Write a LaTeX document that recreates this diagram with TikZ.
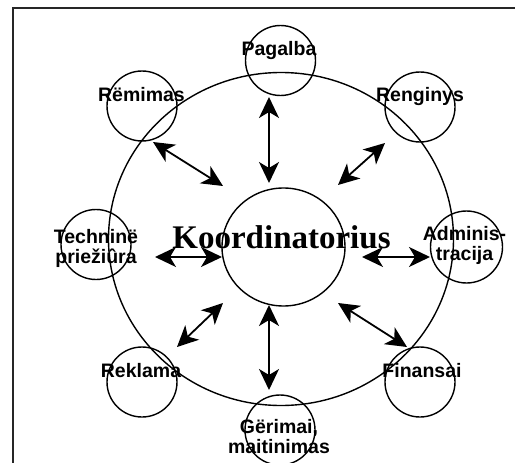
\documentclass[tikz,border=0pt]{standalone}
\usepackage{fontspec}
\setmainfont{Liberation Serif}
\newfontfamily\labfont{Liberation Sans}
\usetikzlibrary{shapes.geometric,arrows.meta}
\begin{document}
\begin{tikzpicture}[x=1pt,y=-1pt,
  frame/.style={draw=black!85, line width=2pt},
  ringline/.style={draw, line width=1.4pt},
  smallc/.style={circle, draw, line width=1.4pt, minimum size=70pt, inner sep=0pt},
  lab/.style={anchor=base, inner sep=0pt, align=center, font=\labfont\bfseries\fontsize{19.5}{20}\selectfont},
  biarrow/.style={line width=1.8pt, {Stealth[length=21pt,width=20pt,inset=6pt]}-{Stealth[length=21pt,width=20pt,inset=6pt]}}
]
\useasboundingbox (0,0) rectangle (515,463);
\draw[frame] (13,8) rectangle (540,490);
\node[ellipse, ringline, minimum width=345pt, minimum height=333pt, inner sep=0pt] (ring) at (281,239) {};
\node[ellipse, ringline, minimum width=123pt, minimum height=118pt, inner sep=0pt] (coord) at (283.5,247) {};
\node[smallc] (pag) at (280.5,60.5) {};
\node[smallc] (rem) at (142,106) {};
\node[smallc] (ren) at (420,107) {};
\node[smallc] (tech) at (96,244.5) {};
\node[smallc, minimum size=72pt] (adm) at (466.5,247) {};
\node[smallc] (rek) at (142,382) {};
\node[smallc] (fin) at (420,382) {};
\node[smallc] (ger) at (280,430) {};
% labels
\node[anchor=base, inner sep=0pt, font=\bfseries\fontsize{33}{36}\selectfont] (coordtxt) at (281.5,248) {Koordinatorius};
\node[lab] (pagtxt) at (279,56) {Pagalba};
\node[lab] (remtxt) at (141.5,101.5) {Rëmimas};
\node[lab] (rentxt) at (420,101.5) {Renginys};
\node[lab] (rektxt) at (141,377) {Reklama};
\node[lab] (fintxt) at (422,377) {Finansai};
\node[lab] (techtxt) at (96,263) {Techninë\\priežiûra};
\node[lab] (admtxt) at (464.5,260.5) {Adminis-\\tracija};
\node[lab] (gertxt) at (279,453) {Gërimai,\\maitinimas};
% arrow ends
\coordinate (n1) at (269,97);  \coordinate (n2) at (269,183);
\coordinate (s1) at (269,305); \coordinate (s2) at (269,390);
\coordinate (w1) at (155,257); \coordinate (w2) at (222,257);
\coordinate (e1) at (362,257); \coordinate (e2) at (430,257);
\coordinate (nw1) at (153,142); \coordinate (nw2) at (223,186);
\coordinate (ne1) at (385,143); \coordinate (ne2) at (338,185);
\coordinate (sw1) at (223,303); \coordinate (sw2) at (177,347);
\coordinate (se1) at (338,303); \coordinate (se2) at (407,347);
\draw[biarrow] (n1) -- (n2);
\draw[biarrow] (s1) -- (s2);
\draw[biarrow] (w1) -- (w2);
\draw[biarrow] (e1) -- (e2);
\draw[biarrow] (nw1) -- (nw2);
\draw[biarrow] (ne1) -- (ne2);
\draw[biarrow] (sw1) -- (sw2);
\draw[biarrow] (se1) -- (se2);
\end{tikzpicture}
\end{document}
